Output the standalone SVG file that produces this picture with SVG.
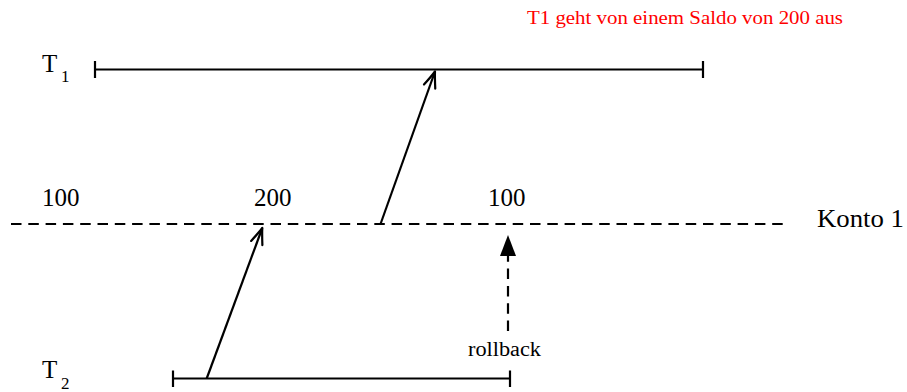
<svg xmlns="http://www.w3.org/2000/svg" width="907" height="392" viewBox="0 0 907 392">
<style>
  .lbl { font-family: "Liberation Serif", "DejaVu Serif", serif; fill: #000; }
  .big { font-size: 25px; }
  .sub { font-size: 17px; }
  .small { font-size: 20px; }
  .note { font-family: "Liberation Serif", "DejaVu Serif", serif; font-size: 18px; fill: #ff0000; }
  .line { stroke: #000; stroke-width: 2.2; fill: none; }
  .dash { stroke: #000; stroke-width: 2.2; fill: none; stroke-dasharray: 10.5 6.8; }
</style>
<defs>
  <marker id="open" markerUnits="userSpaceOnUse" markerWidth="24" markerHeight="20" viewBox="-20 -10 24 20" refX="0" refY="0" orient="auto">
    <path d="M -16 -6 Q -5 -1.5 0 0 Q -5 1.5 -16 6" stroke="#000" stroke-width="2.2" fill="none" stroke-linecap="round" stroke-linejoin="round"/>
  </marker>
</defs>
<rect width="907" height="392" fill="#fff"/>

<g id="note">
  <text class="note" x="527" y="24" textLength="316" lengthAdjust="spacingAndGlyphs">T1 geht von einem Saldo von 200 aus</text>
</g>

<g id="T1">
  <text class="lbl big" x="42" y="72">T</text>
  <text class="lbl sub" x="61" y="82">1</text>
  <line class="line" x1="95" y1="69.5" x2="703" y2="69.5"/>
  <line class="line" x1="95" y1="61" x2="95" y2="78"/>
  <line class="line" x1="703" y1="61" x2="703" y2="78"/>
</g>

<g id="T2">
  <text class="lbl big" x="42" y="378">T</text>
  <text class="lbl sub" x="61" y="389">2</text>
  <line class="line" x1="173" y1="378.5" x2="510" y2="378.5"/>
  <line class="line" x1="173" y1="370.5" x2="173" y2="387"/>
  <line class="line" x1="510" y1="370.5" x2="510" y2="387"/>
</g>

<g id="konto">
  <line class="dash" x1="11" y1="224" x2="788" y2="224"/>
  <text class="lbl big" x="817" y="227" textLength="87" lengthAdjust="spacingAndGlyphs">Konto 1</text>
  <text class="lbl big" x="42" y="206">100</text>
  <text class="lbl big" x="254" y="206">200</text>
  <text class="lbl big" x="488" y="206">100</text>
</g>

<g id="rollback-label">
  <text class="lbl small" x="468" y="356" textLength="73" lengthAdjust="spacingAndGlyphs">rollback</text>
</g>

<g id="connectors">
  <line class="line" x1="206.7" y1="378.5" x2="262.3" y2="228" marker-end="url(#open)"/>
  <line class="line" x1="380.7" y1="223.5" x2="435" y2="71.5" marker-end="url(#open)"/>
  <line class="dash" x1="508" y1="331" x2="508" y2="254"/>
  <polygon points="508,235 500,256 516,256" fill="#000"/>
</g>
</svg>
